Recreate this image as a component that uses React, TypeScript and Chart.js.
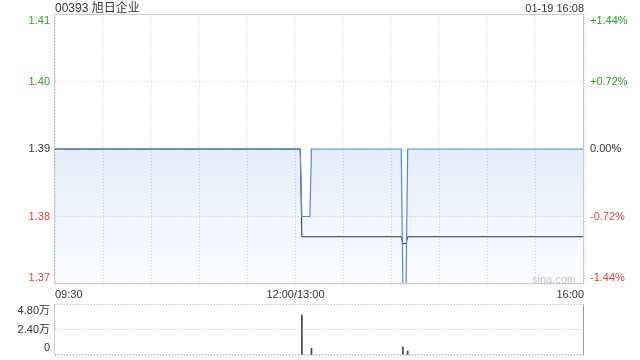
import React, { useEffect, useRef } from 'react';
import { Chart, registerables } from 'chart.js';

Chart.register(...registerables);

const stockTitle = '00393 旭日企业';
const timestamp = '01-19 16:08';
const watermark = 'sina.com';
const prevClose = 1.39;

// minutes since 09:30 on a compressed trading-time axis (lunch break removed)
const priceMinutes = [0, 153, 154, 159, 160, 216, 217, 219, 220, 330];
const prices = [1.39, 1.39, 1.38, 1.38, 1.39, 1.39, 1.37, 1.37, 1.39, 1.39];
const avgMinutes = [0, 153, 154, 216, 217, 219, 220, 330];
const avgPrices = [1.39, 1.39, 1.377, 1.377, 1.376, 1.376, 1.377, 1.377];
const volumeMinutes = [154, 160, 217, 220];
const volumes = [37600, 6300, 7800, 3800];

const priceTicks = [1.37, 1.38, 1.39, 1.4, 1.41];
const volumeTicks = [0, 24000, 48000];
const gridMinutes = [0, 30, 60, 90, 120, 150, 180, 210, 240, 270, 300, 330];
const timeLabelMinutes = [0, 150, 330];
const timeLabels = ['09:30', '12:00/13:00', '16:00'];

const FAMILY = '"Liberation Sans", Arial, "Noto Sans CJK SC", sans-serif';
const FONT11 = '11px ' + FAMILY;
const GREEN = '#22a522';
const RED = '#f03a3a';
const TEXT = '#333333';

const priceColor = (v: number) =>
  v > prevClose + 1e-9 ? GREEN : v < prevClose - 1e-9 ? RED : TEXT;
const priceFmt = (v: number) => v.toFixed(2);
const pctFmt = (v: number) => {
  const p = ((v - prevClose) / prevClose) * 100;
  const s = p.toFixed(2);
  return (p > 0.0001 ? '+' : '') + (Math.abs(p) < 0.0001 ? '0.00' : s) + '%';
};
const volFmt = (v: number) => (v === 0 ? '0' : (v / 10000).toFixed(2) + '万');

type LabelCfg = Record<string, { format: (v: number) => string; color: (v: number) => string }>;

function makeAxisLabelPlugin(cfg: LabelCfg, inset: number) {
  return {
    id: 'axisLabels',
    afterDraw(chart: any) {
      const { ctx, chartArea } = chart;
      ctx.save();
      ctx.font = FONT11;
      ctx.textBaseline = 'middle';
      Object.keys(cfg).forEach((id) => {
        const s = chart.scales[id];
        if (!s) return;
        const left = s.position === 'left';
        ctx.textAlign = left ? 'right' : 'left';
        const x = left ? chartArea.left - 5 : chartArea.right + 6;
        s.ticks.forEach((t: any) => {
          const raw = s.getPixelForValue(t.value);
          const y = Math.min(Math.max(raw, chartArea.top + inset), chartArea.bottom - inset);
          ctx.fillStyle = cfg[id].color(t.value);
          ctx.fillText(cfg[id].format(t.value), x, y);
        });
      });
      ctx.restore();
    },
  };
}

type Side = { color: string; dash: number[] };
function makeBoxPlugin(top: Side, right: Side, bottom: Side, left: Side) {
  return {
    id: 'box',
    afterDraw(chart: any) {
      const { ctx, chartArea: a } = chart;
      const l = Math.round(a.left) - 0.5;
      const r = Math.round(a.right) - 0.5;
      const t = Math.round(a.top) + 0.5;
      const b = Math.round(a.bottom) - 0.5;
      const line = (s: Side, x1: number, y1: number, x2: number, y2: number) => {
        ctx.save();
        ctx.strokeStyle = s.color;
        ctx.lineWidth = 1;
        ctx.setLineDash(s.dash);
        ctx.beginPath();
        ctx.moveTo(x1, y1);
        ctx.lineTo(x2, y2);
        ctx.stroke();
        ctx.restore();
      };
      line(top, l, t, r, t);
      line(bottom, l, b, r, b);
      line(left, l, t, l, b);
      line(right, r, t, r, b);
    },
  };
}

const setTicks = (arr: number[]) => (s: any) => {
  s.ticks = arr.map((v) => ({ value: v }));
};

export default function App() {
  const mainRef = useRef<HTMLCanvasElement | null>(null);
  const volRef = useRef<HTMLCanvasElement | null>(null);

  useEffect(() => {
    if (!mainRef.current || !volRef.current) return;

    const solid = { color: '#cccccc', dash: [] as number[] };

    const main = new Chart(mainRef.current, {
      type: 'line',
      data: {
        datasets: [
          {
            label: 'price',
            data: priceMinutes.map((m, i) => ({ x: m, y: prices[i] })),
            borderColor: '#4a8af2',
            borderWidth: 1.2,
            pointRadius: 0,
            tension: 0,
            fill: 'start',
            order: 0,
            backgroundColor: (c: any) => {
              const chart = c.chart;
              const area = chart.chartArea;
              if (!area) return 'rgba(100,150,235,0.1)';
              const y0 = chart.scales.y.getPixelForValue(prevClose);
              const g = chart.ctx.createLinearGradient(0, y0, 0, area.bottom);
              g.addColorStop(0, 'rgba(100,150,235,0.17)');
              g.addColorStop(1, 'rgba(100,150,235,0.03)');
              return g;
            },
          },
          {
            label: 'avg',
            data: avgMinutes.map((m, i) => ({ x: m, y: avgPrices[i] })),
            borderColor: '#333333',
            borderWidth: 1,
            pointRadius: 0,
            tension: 0,
            fill: false,
            order: 1,
          },
        ],
      },
      options: {
        animation: false,
        responsive: false,
        events: [],
        layout: { padding: { top: 14, bottom: 0, left: 0, right: 0 } },
        plugins: {
          legend: { display: false },
          tooltip: { enabled: false },
          filler: { drawTime: 'beforeDatasetsDraw' },
        } as any,
        scales: {
          x: {
            type: 'linear',
            min: 0,
            max: 330,
            afterBuildTicks: setTicks(gridMinutes),
            afterFit: (s: any) => {
              s.height = 16;
            },
            grid: { color: '#d8d8d8', drawTicks: false },
            border: { display: false, dash: [1, 2] },
            ticks: {
              autoSkip: false,
              maxRotation: 0,
              padding: 4,
              align: 'inner',
              color: TEXT,
              font: { size: 11, family: FAMILY },
              callback: (v: any) => {
                const i = timeLabelMinutes.indexOf(Number(v));
                return i >= 0 ? timeLabels[i] : '';
              },
            },
          },
          y: {
            position: 'left',
            min: 1.37,
            max: 1.41,
            afterBuildTicks: setTicks(priceTicks),
            afterFit: (s: any) => {
              s.width = 55;
            },
            ticks: { display: false },
            grid: { color: '#d8d8d8', drawTicks: false },
            border: { display: false, dash: [1, 2] },
          },
          y2: {
            position: 'right',
            min: 1.37,
            max: 1.41,
            afterBuildTicks: setTicks(priceTicks),
            afterFit: (s: any) => {
              s.width = 56;
            },
            ticks: { display: false },
            grid: { display: false },
            border: { display: false },
          },
        } as any,
      },
      plugins: [
        makeBoxPlugin(solid, solid, solid, solid),
        makeAxisLabelPlugin(
          {
            y: { format: priceFmt, color: priceColor },
            y2: { format: pctFmt, color: priceColor },
          },
          6.5
        ),
      ],
    } as any);

    const vol = new Chart(volRef.current, {
      type: 'bar',
      data: {
        datasets: [
          {
            label: 'volume',
            data: volumeMinutes.map((m, i) => ({ x: m, y: volumes[i] })),
            backgroundColor: '#444444',
            borderWidth: 0,
            barThickness: 1,
          },
        ],
      },
      options: {
        animation: false,
        responsive: false,
        events: [],
        layout: { padding: { top: 4, bottom: 5, left: 0, right: 0 } },
        plugins: { legend: { display: false }, tooltip: { enabled: false } },
        scales: {
          x: { type: 'linear', min: 0, max: 330, offset: false, display: false },
          y: {
            position: 'left',
            min: 0,
            max: 48000,
            afterBuildTicks: setTicks(volumeTicks),
            afterFit: (s: any) => {
              s.width = 55;
            },
            ticks: { display: false },
            grid: { color: '#c8c8c8', drawTicks: false },
            border: { display: false, dash: [1, 2] },
          },
          y2: {
            position: 'right',
            min: 0,
            max: 48000,
            afterBuildTicks: setTicks(volumeTicks),
            afterFit: (s: any) => {
              s.width = 56;
            },
            ticks: { display: false },
            grid: { display: false },
            border: { display: false },
          },
        } as any,
      },
      plugins: [
        makeBoxPlugin(
          { color: '#c8c8c8', dash: [1, 2] },
          { color: '#999999', dash: [] },
          { color: '#999999', dash: [1, 2] },
          { color: '#cccccc', dash: [] }
        ),
        makeAxisLabelPlugin({ y: { format: volFmt, color: () => TEXT } }, 7),
      ],
    } as any);

    return () => {
      main.destroy();
      vol.destroy();
    };
  }, []);

  const textStyle: React.CSSProperties = {
    position: 'absolute',
    font: '12px ' + FAMILY,
    lineHeight: '14px',
    color: TEXT,
    whiteSpace: 'nowrap',
    pointerEvents: 'none',
  };

  return (
    <div
      style={{
        position: 'fixed',
        left: 0,
        top: 0,
        width: 640,
        height: 360,
        background: '#ffffff',
        overflow: 'hidden',
      }}
    >
      <canvas
        ref={mainRef}
        width={640}
        height={300}
        style={{ position: 'absolute', left: 0, top: 0, width: 640, height: 300, display: 'block' }}
      />
      <canvas
        ref={volRef}
        width={640}
        height={60}
        style={{ position: 'absolute', left: 0, top: 300, width: 640, height: 60, display: 'block' }}
      />
      <div style={{ ...textStyle, left: 55, top: 1 }}>{stockTitle}</div>
      <div style={{ ...textStyle, right: 56, top: 1, fontSize: 11 }}>{timestamp}</div>
      <div style={{ ...textStyle, left: 532, top: 272, fontSize: 11, color: '#c8c8c8' }}>{watermark}</div>
    </div>
  );
}
